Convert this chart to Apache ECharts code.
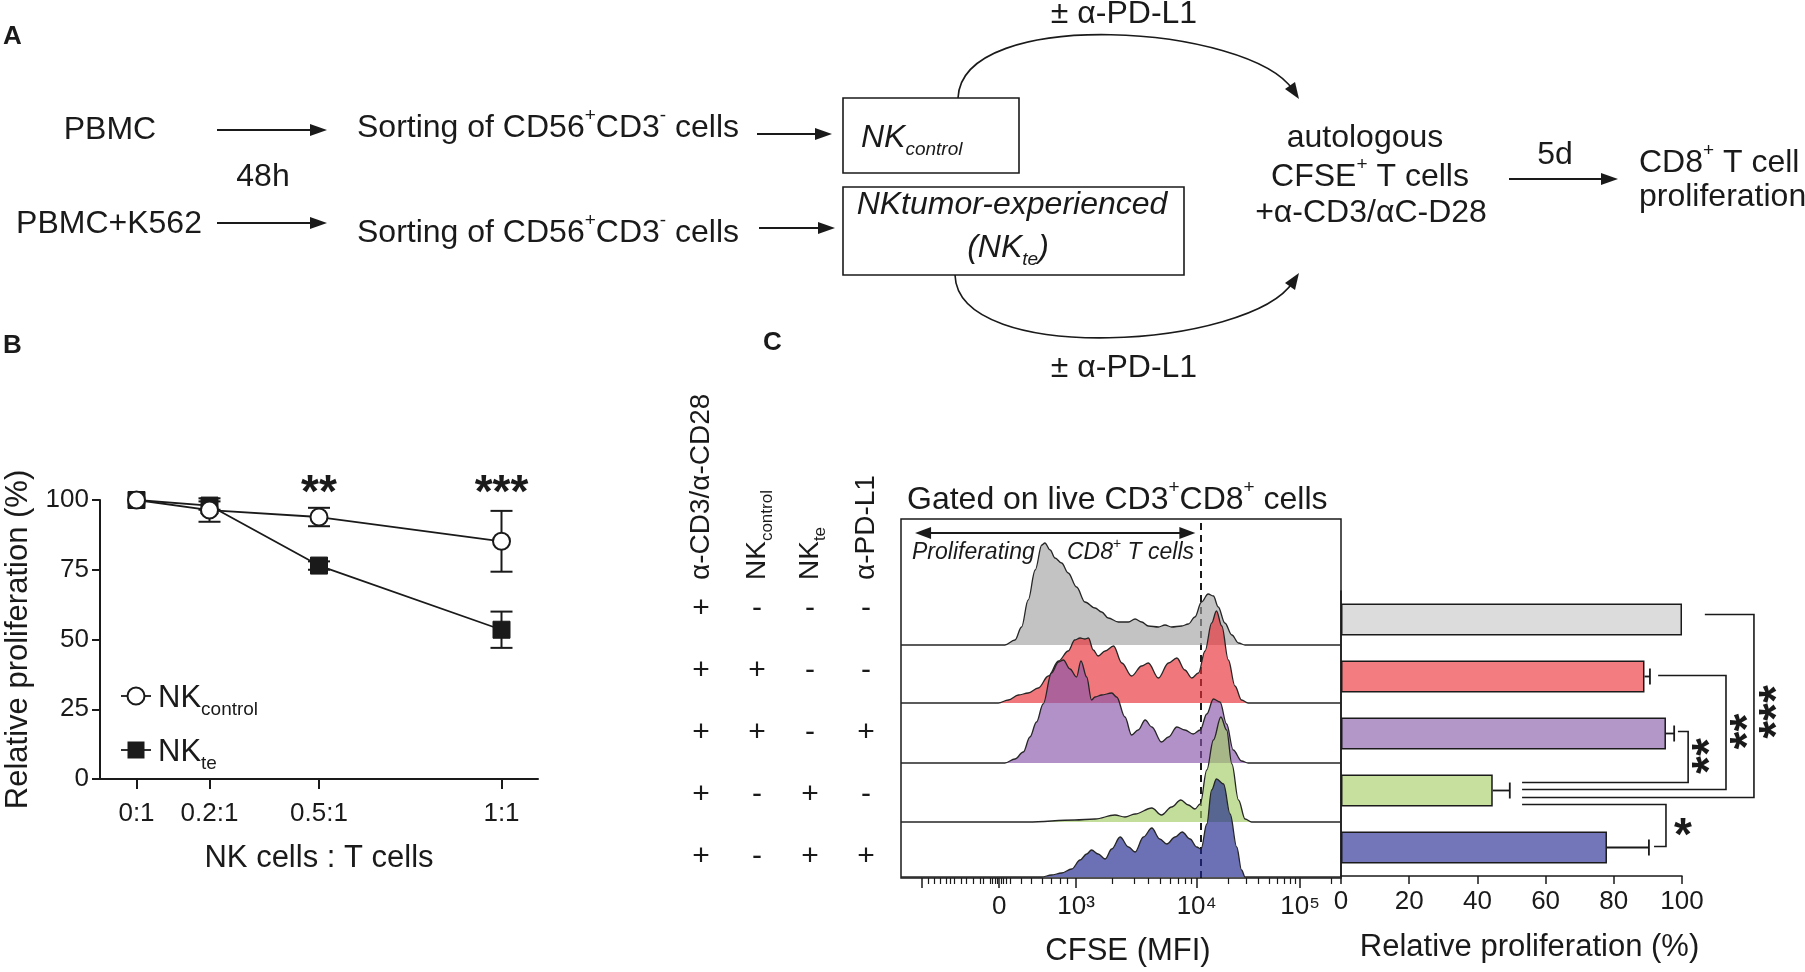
<!DOCTYPE html>
<html><head><meta charset="utf-8">
<script src="https://cdn.jsdelivr.net/npm/echarts@6/dist/echarts.min.js"></script>
<style>html,body{margin:0;padding:0;background:#fff}#c{width:1805px;height:972px}</style>
</head><body><div id="c"></div>
<script>
// ---------------- DATA ----------------
// Panel B
const ratioValues = [0, 0.2, 0.5, 1];
const ratioLabels = ['0:1', '0.2:1', '0.5:1', '1:1'];
const nkControl = [100, 96.4, 93.9, 85.2];
const nkControlErr = [0, 4.2, 3.3, 10.9];
const nkTe = [100, 98, 76.5, 53.5];
const nkTeErr = [0, 1.5, 1.5, 6.5];
const sigB = [[0.5, '**'], [1, '***']];

// Panel C conditions table
const conditionNames = ['{m|α-CD3/α-CD28}', '{m|NK}{s|control}', '{m|NK}{s|te}', '{m|α-PD-L1}'];
const conditionRows = [
  ['+', '-', '-', '-'],
  ['+', '+', '-', '-'],
  ['+', '+', '-', '+'],
  ['+', '-', '+', '-'],
  ['+', '-', '+', '+']
];

// Panel C histograms: [CFSE display channel (0-100), cell count]
const histGrey = [[0,0],[23.6,0],[25.9,5],[27.4,18],[28.9,45],[30.5,75],[32.0,100],[32.7,102],[33.9,95],[35.0,87],[36.5,82],[38.0,72],[39.9,58],[41.8,43],[44.1,37],[45.6,33],[47.1,27],[49.4,23],[51.7,23],[53.2,26],[54.7,23],[56.2,19],[58.5,18],[60.0,20],[61.5,18],[63.8,19],[65.3,21],[66.8,28],[68.3,43],[69.8,51],[71.0,49],[72.1,38],[73.6,22],[75.2,10],[76.7,2],[78.2,0],[100,0]];
const histRed = [[0,0],[22.1,0],[24.4,3],[26.7,8],[28.9,10],[31.2,15],[33.5,27],[35.8,42],[38.0,52],[39.5,63],[40.7,65],[41.8,64],[42.6,65],[43.7,53],[44.8,47],[46.4,52],[48.3,57],[50.2,40],[52.4,27],[54.7,37],[56.2,40],[58.5,25],[60.8,40],[62.7,45],[64.5,33],[66.1,25],[67.6,30],[69.1,52],[70.6,80],[71.7,92],[72.9,77],[74.4,43],[75.9,17],[77.4,3],[78.9,0],[100,0]];
const histPurple = [[0,0],[23.6,0],[25.9,4],[27.8,11],[29.3,26],[30.8,41],[32.3,59],[34.2,90],[35.8,101],[36.9,103],[38.4,94],[39.9,86],[40.9,102],[42.2,86],[43.3,63],[44.1,66],[45.6,68],[47.9,70],[49.0,66],[50.9,46],[52.4,28],[53.9,33],[55.5,43],[57.0,36],[59.2,21],[60.8,26],[62.7,36],[64.5,33],[66.4,29],[68.0,33],[69.5,49],[71.0,64],[72.5,61],[74.0,39],[75.5,13],[77.4,2],[78.9,0],[100,0]];
const histGreen = [[0,0],[28.9,0],[39.5,2],[44.1,3],[48.6,7],[50.9,5],[53.2,8],[57.0,14],[59.2,7],[61.5,15],[63.6,22],[65.3,17],[66.8,13],[68.0,18],[69.5,52],[71.0,82],[72.7,105],[74.0,92],[75.2,58],[76.7,22],[78.2,3],[79.7,0],[100,0]];
const histBlue = [[0,0],[32.0,0],[34.2,2],[36.5,4],[38.8,8],[40.7,17],[42.2,23],[43.3,27],[44.8,23],[46.4,18],[47.9,28],[49.8,40],[51.7,30],[53.2,25],[55.1,40],[57.0,49],[58.8,38],[60.4,33],[62.3,40],[63.9,45],[65.7,38],[67.2,30],[68.2,28],[69.5,53],[70.6,87],[71.7,98],[73.3,93],[74.8,63],[76.3,30],[77.4,7],[78.2,0],[100,0]];
const gateChannel = 68.2;
const cfseMajorTicks = [4.7, 22.3, 39.8, 67.2, 90.7];
const cfseTickLabels = [[22.3, '0'], [39.8, '10³'], [67.2, '10⁴'], [90.7, '10⁵']];
const cfseMinorTicks = [6.2, 7.6, 8.9, 10.2, 11.1, 12.1, 13.8, 14.9, 16.4, 17.9, 18.7, 20.2, 20.8, 21.4, 21.8, 22.8, 23.3, 23.9, 24.8, 27.4, 29.7, 32, 34.2, 36.1, 37.7, 48.0, 52.9, 56.3, 59.0, 61.1, 63.0, 64.5, 65.9, 74.3, 78.4, 81.3, 83.6, 85.5, 87.1, 88.4, 89.6, 97.8];

// Panel C bars
const barCats = ['ctrl', 'NKcontrol', 'NKcontrol+PD-L1', 'NKte', 'NKte+PD-L1'];
const relProlif = [100, 89, 95.3, 44.5, 78];
const relProlifErr = [0, 1.6, 2.4, 5, 12.3];

// ---------------- STYLE ----------------
const F = 'Liberation Sans, Arial, Helvetica, sans-serif';
const INK = '#1a1a1a';
const histFill = ['rgb(163,163,163)', 'rgb(232,47,54)', 'rgb(137,86,170)', 'rgb(163,204,101)', 'rgb(29,35,140)'];
const barFill = ['#dcdcdc', '#f27c80', '#b397c9', '#c8e09e', '#7377b9'];
const rowBaselines = [645, 703, 763, 822, 877];

function richSet(size, lh) {
  const ss = Math.round(size * 0.6);
  return {
    m: {fontSize: size, fontFamily: F, lineHeight: lh, fill: INK},
    mi: {fontSize: size, fontFamily: F, fontStyle: 'italic', lineHeight: lh, fill: INK},
    p: {fontSize: ss, fontFamily: F, lineHeight: ss, verticalAlign: 'top', fill: INK},
    s: {fontSize: ss, fontFamily: F, lineHeight: ss, verticalAlign: 'bottom', fill: INK},
    si: {fontSize: ss, fontFamily: F, fontStyle: 'italic', lineHeight: ss, verticalAlign: 'bottom', fill: INK}
  };
}
function T(text, x, y, o) {
  o = o || {};
  const size = o.size || 32;
  return {type: 'text', x: x, y: y, rotation: o.rot || 0, z: 50, silent: true,
    style: {text: text, x: 0, y: 0, fill: INK, fontSize: size, fontFamily: F,
      fontStyle: o.italic ? 'italic' : 'normal', fontWeight: o.bold ? 'bold' : 'normal',
      align: o.align || 'center', verticalAlign: o.va || 'middle', rich: richSet(size, o.lh || Math.round(size * 1.35))}};
}
function arrowR(x1, x2, y) {
  return [
    {type: 'line', z: 50, shape: {x1: x1, y1: y, x2: x2 - 8, y2: y}, style: {stroke: INK, lineWidth: 2}},
    {type: 'polygon', z: 50, shape: {points: [[x2, y], [x2 - 17, y - 6], [x2 - 17, y + 6]]}, style: {fill: INK}}
  ];
}

const chart = echarts.init(document.getElementById('c'), null, {width: 1805, height: 972});

const grids = [
  {left: 100, top: 500, width: 438, height: 279}
];
rowBaselines.forEach(b => grids.push({left: 901, top: b - 110, width: 440, height: 110}));
grids.push({left: 901, top: 519, width: 440, height: 359, show: true, borderColor: INK, borderWidth: 1.5, backgroundColor: 'transparent'});
grids.push({left: 901, top: 519, width: 440, height: 359});
grids.push({left: 1341, top: 591, width: 341, height: 285});

const lbl = {color: INK, fontFamily: F, fontSize: 26};
const xAxes = [{
  gridIndex: 0, type: 'value', min: -0.1, max: 1.1,
  axisLine: {onZero: false, lineStyle: {color: INK, width: 2}},
  axisTick: {customValues: ratioValues, length: 10, lineStyle: {color: INK, width: 2}},
  axisLabel: Object.assign({customValues: ratioValues, margin: 22,
    formatter: v => { const i = ratioValues.findIndex(r => Math.abs(r - v) < 1e-6); return i >= 0 ? ratioLabels[i] : ''; }}, lbl),
  splitLine: {show: false},
  name: 'NK cells : T cells', nameLocation: 'middle', nameGap: 64,
  nameTextStyle: {color: INK, fontFamily: F, fontSize: 31}
}];
const yAxes = [{
  gridIndex: 0, type: 'value', min: 0, max: 100, interval: 25,
  axisLine: {show: true, onZero: false, lineStyle: {color: INK, width: 2}},
  axisTick: {show: true, length: 8, lineStyle: {color: INK, width: 2}},
  axisLabel: Object.assign({margin: 11}, lbl),
  splitLine: {show: false},
  name: 'Relative proliferation (%)', nameLocation: 'middle', nameGap: 66,
  nameTextStyle: {color: INK, fontFamily: F, fontSize: 31}
}];
for (let i = 1; i <= 5; i++) {
  xAxes.push({gridIndex: i, type: 'value', min: 0, max: 100, show: false});
  yAxes.push({gridIndex: i, type: 'value', min: 0, max: 110, show: false});
}
xAxes.push({
  gridIndex: 6, type: 'value', min: 0, max: 100, position: 'bottom',
  axisLine: {show: false},
  axisTick: {show: true, customValues: cfseMajorTicks, length: 10, lineStyle: {color: INK, width: 1.5}},
  axisLabel: Object.assign({customValues: cfseTickLabels.map(d => d[0]), margin: 16,
    formatter: v => { const d = cfseTickLabels.find(t => Math.abs(t[0] - v) < 1e-6); return d ? d[1] : ''; }}, lbl),
  splitLine: {show: false},
  name: 'CFSE (MFI)', nameLocation: 'middle', nameGap: 58,
  nameTextStyle: {color: INK, fontFamily: F, fontSize: 31, padding: [0, 0, 0, 14]}
});
yAxes.push({gridIndex: 6, type: 'value', min: 0, max: 1, show: false});
xAxes.push({
  gridIndex: 7, type: 'value', min: 0, max: 100, position: 'bottom',
  axisLine: {show: false},
  axisTick: {show: true, customValues: cfseMinorTicks, length: 6, lineStyle: {color: INK, width: 1.2}},
  axisLabel: {show: false}, splitLine: {show: false}
});
yAxes.push({gridIndex: 7, type: 'value', min: 0, max: 1, show: false});
xAxes.push({
  gridIndex: 8, type: 'value', min: 0, max: 100, interval: 20,
  axisLine: {show: true, onZero: false, lineStyle: {color: INK, width: 1.5}},
  axisTick: {show: true, length: 8, lineStyle: {color: INK, width: 1.5}},
  axisLabel: Object.assign({margin: 13}, lbl),
  splitLine: {show: false},
  name: 'Relative proliferation (%)', nameLocation: 'middle', nameGap: 56,
  nameTextStyle: {color: INK, fontFamily: F, fontSize: 31, padding: [0, 0, 0, 36]}
});
yAxes.push({
  gridIndex: 8, type: 'category', data: barCats, inverse: true,
  axisLine: {show: true, onZero: false, lineStyle: {color: INK, width: 1.5}},
  axisTick: {show: false}, axisLabel: {show: false}
});

function errRenderV(params, api) {
  const x = api.value(0), lo = api.coord([x, api.value(1)]), hi = api.coord([x, api.value(2)]);
  if (Math.abs(lo[1] - hi[1]) < 0.5) return null;
  const w = 11, st = {stroke: INK, lineWidth: 2};
  return {type: 'group', children: [
    {type: 'line', shape: {x1: lo[0], y1: lo[1], x2: hi[0], y2: hi[1]}, style: st},
    {type: 'line', shape: {x1: lo[0] - w, y1: lo[1], x2: lo[0] + w, y2: lo[1]}, style: st},
    {type: 'line', shape: {x1: hi[0] - w, y1: hi[1], x2: hi[0] + w, y2: hi[1]}, style: st}
  ]};
}

const histSets = [histGrey, histRed, histPurple, histGreen, histBlue];
const series = [
  {type: 'custom', xAxisIndex: 0, yAxisIndex: 0, z: 1, renderItem: errRenderV, encode: {x: 0, y: [1, 2]},
    data: ratioValues.map((r, i) => [r, nkTe[i] - nkTeErr[i], nkTe[i] + nkTeErr[i]])},
  {type: 'custom', xAxisIndex: 0, yAxisIndex: 0, z: 1, renderItem: errRenderV, encode: {x: 0, y: [1, 2]},
    data: ratioValues.map((r, i) => [r, nkControl[i] - nkControlErr[i], nkControl[i] + nkControlErr[i]])},
  {type: 'line', name: 'NKte', xAxisIndex: 0, yAxisIndex: 0, z: 3,
    data: ratioValues.map((r, i) => [r, nkTe[i]]), symbol: 'rect', symbolSize: 17,
    itemStyle: {color: INK, borderColor: INK, borderWidth: 1}, lineStyle: {color: INK, width: 1.8}},
  {type: 'line', name: 'NKcontrol', xAxisIndex: 0, yAxisIndex: 0, z: 4,
    data: ratioValues.map((r, i) => [r, nkControl[i]]), symbol: 'circle', symbolSize: 17,
    itemStyle: {color: '#fff', borderColor: INK, borderWidth: 2}, lineStyle: {color: INK, width: 1.8}}
];
histSets.forEach((h, i) => {
  series.push({type: 'line', xAxisIndex: i + 1, yAxisIndex: i + 1, z: 5 + i, data: h,
    smooth: 0.35, smoothMonotone: 'x', symbol: 'none', clip: false,
    lineStyle: {color: '#262626', width: 1.3},
    areaStyle: {color: histFill[i], opacity: 0.65, origin: 'start'}});
});
series.push({type: 'line', xAxisIndex: 6, yAxisIndex: 6, z: 20, data: [],
  markLine: {silent: true, symbol: 'none', animation: false, label: {show: false},
    lineStyle: {color: INK, width: 2, type: [7, 5]}, data: [{xAxis: gateChannel}]}});
series.push({type: 'line', xAxisIndex: 7, yAxisIndex: 7, data: []});
series.push({type: 'bar', xAxisIndex: 8, yAxisIndex: 8, z: 3, barWidth: 32,
  data: relProlif.map((v, i) => ({value: v, itemStyle: {color: barFill[i]}})),
  itemStyle: {borderColor: INK, borderWidth: 1.5}});
series.push({type: 'custom', xAxisIndex: 8, yAxisIndex: 8, z: 2, encode: {x: [0, 2], y: 1},
  data: relProlif.map((v, i) => [v, i, v + relProlifErr[i]]),
  renderItem: (params, api) => {
    const a = api.coord([api.value(0), api.value(1)]), b = api.coord([api.value(2), api.value(1)]);
    if (b[0] - a[0] < 0.5) return null;
    const st = {stroke: INK, lineWidth: 1.8};
    return {type: 'group', children: [
      {type: 'line', shape: {x1: a[0], y1: a[1], x2: b[0], y2: b[1]}, style: st},
      {type: 'line', shape: {x1: b[0], y1: b[1] - 8, x2: b[0], y2: b[1] + 8}, style: st}
    ]};
  }});

chart.setOption({
  animation: false,
  backgroundColor: '#fff',
  grid: grids, xAxis: xAxes, yAxis: yAxes, series: series
});

// ---------------- GRAPHICS / ANNOTATIONS ----------------
const g = [];
// panel labels
g.push(T('A', 3, 37, {bold: true, size: 26, align: 'left'}));
g.push(T('B', 3, 346, {bold: true, size: 26, align: 'left'}));
g.push(T('C', 763, 343, {bold: true, size: 26, align: 'left'}));

// Panel A schematic
g.push(T('PBMC', 110, 130));
g.push(T('48h', 263, 177));
g.push(T('PBMC+K562', 109, 224));
g.push(...arrowR(217, 327, 130), ...arrowR(217, 327, 223));
g.push(T('{m|Sorting of CD56}{p|+}{m|CD3}{p|-}{m| cells}', 357, 128, {align: 'left'}));
g.push(T('{m|Sorting of CD56}{p|+}{m|CD3}{p|-}{m| cells}', 357, 233, {align: 'left'}));
g.push(...arrowR(757, 832, 134), ...arrowR(759, 835, 228));
g.push({type: 'rect', z: 50, shape: {x: 843, y: 98, width: 176, height: 75}, style: {fill: 'none', stroke: INK, lineWidth: 1.6}});
g.push({type: 'rect', z: 50, shape: {x: 843, y: 187, width: 341, height: 88}, style: {fill: 'none', stroke: INK, lineWidth: 1.6}});
g.push(T('{mi|NK}{si|control}', 861, 138, {align: 'left'}));
g.push(T('NKtumor-experienced', 1012, 205, {italic: true}));
g.push(T('{mi|(NK}{si|te}{mi|)}', 1008, 248));
g.push(T('± α-PD-L1', 1124, 14));
g.push(T('± α-PD-L1', 1124, 368));
g.push({type: 'bezierCurve', z: 50, shape: {x1: 958, y1: 98, cpx1: 962, cpy1: 5, cpx2: 1250, cpy2: 25, x2: 1293, y2: 90}, style: {stroke: INK, lineWidth: 1.6, fill: 'none'}});
g.push({type: 'polygon', z: 50, shape: {points: [[1299, 99], [1285, 89], [1295, 82]]}, style: {fill: INK}});
g.push({type: 'bezierCurve', z: 50, shape: {x1: 955, y1: 275, cpx1: 958, cpy1: 367, cpx2: 1250, cpy2: 348, x2: 1293, y2: 282}, style: {stroke: INK, lineWidth: 1.6, fill: 'none'}});
g.push({type: 'polygon', z: 50, shape: {points: [[1299, 273], [1285, 283], [1295, 290]]}, style: {fill: INK}});
g.push(T('autologous', 1365, 138));
g.push(T('{m|CFSE}{p|+}{m| T cells}', 1370, 177));
g.push(T('+α-CD3/αC-D28', 1371, 213));
g.push(T('5d', 1555, 155));
g.push(...arrowR(1509, 1618, 179));
g.push(T('{m|CD8}{p|+}{m| T cell}', 1639, 163, {align: 'left'}));
g.push(T('proliferation', 1639, 197, {align: 'left'}));

// Panel B legend (drawn by hand)
g.push({type: 'line', z: 50, shape: {x1: 121, y1: 696, x2: 151, y2: 696}, style: {stroke: INK, lineWidth: 1.8}});
g.push({type: 'circle', z: 51, shape: {cx: 136, cy: 696, r: 8.5}, style: {fill: '#fff', stroke: INK, lineWidth: 2}});
g.push(T('{m|NK}{s|control}', 158, 698, {align: 'left', size: 31}));
g.push({type: 'line', z: 50, shape: {x1: 121, y1: 750, x2: 151, y2: 750}, style: {stroke: INK, lineWidth: 1.8}});
g.push({type: 'rect', z: 51, shape: {x: 127.5, y: 741.5, width: 17, height: 17}, style: {fill: INK}});
g.push(T('{m|NK}{s|te}', 158, 752, {align: 'left', size: 31}));

// Panel B significance stars
sigB.forEach(s => {
  const p = chart.convertToPixel({gridIndex: 0}, [s[0], 106]);
  g.push(T(s[1], p[0], p[1] + 11, {size: 46, bold: true}));
});

// Panel C table headers and +/- signs
const colX = [701, 757, 810, 866];
conditionNames.forEach((n, j) => g.push(T(n, colX[j], 580, {size: 28, rot: Math.PI / 2, align: 'left'})));
conditionRows.forEach((row, i) => row.forEach((s, j) => g.push(T(s, colX[j], 609 + i * 62, {size: 30}))));

// histogram header
g.push(T('{m|Gated on live CD3}{p|+}{m|CD8}{p|+}{m| cells}', 907, 500, {align: 'left'}));
const aL = chart.convertToPixel({gridIndex: 6}, [3.2, 1])[0];
const aR = chart.convertToPixel({gridIndex: 6}, [gateChannel - 1.3, 1])[0];
g.push({type: 'line', z: 50, shape: {x1: aL + 8, y1: 533, x2: aR - 8, y2: 533}, style: {stroke: INK, lineWidth: 2}});
g.push({type: 'polygon', z: 50, shape: {points: [[aL, 533], [aL + 16, 527], [aL + 16, 539]]}, style: {fill: INK}});
g.push({type: 'polygon', z: 50, shape: {points: [[aR, 533], [aR - 16, 527], [aR - 16, 539]]}, style: {fill: INK}});
g.push(T('Proliferating', 912, 553, {italic: true, size: 23, align: 'left'}));
g.push(T('{mi|CD8}{p|+}{mi| T cells}', 1067, 553, {size: 23, align: 'left'}));

// Panel C brackets
const X = v => chart.convertToPixel({gridIndex: 8}, [v, 0])[0];
const C = i => chart.convertToPixel({gridIndex: 8}, [0, i])[1];
const br = (pts) => g.push({type: 'polyline', z: 50, shape: {points: pts}, style: {stroke: INK, lineWidth: 1.6, fill: 'none'}});
br([[X(106.7), C(0) - 5], [X(121.1), C(0) - 5], [X(121.1), C(3) + 7], [X(53.1), C(3) + 7]]);
br([[X(93), C(1) - 1], [X(112.9), C(1) - 1], [X(112.9), C(3) - 1], [X(53.1), C(3) - 1]]);
br([[X(98.8), C(2) - 2], [X(101.8), C(2) - 2], [X(101.8), C(3) - 8], [X(53.1), C(3) - 8]]);
br([[X(53.1), C(3) + 14], [X(95.3), C(3) + 14], [X(95.3), C(4) - 1], [X(91.8), C(4) - 1]]);
g.push(T('***', X(121.1) + 13 + 11, (C(0) + C(3)) / 2 + 7, {size: 46, bold: true, rot: Math.PI / 2}));
g.push(T('**', X(112.9) + 12 + 11, (C(1) + C(3)) / 2 - 2, {size: 46, bold: true, rot: Math.PI / 2}));
g.push(T('**', X(101.8) + 12 + 11, (C(2) + C(3) - 8) / 2 - 2, {size: 46, bold: true, rot: Math.PI / 2}));
g.push(T('*', X(95.3) + 17, (C(3) + 14 + C(4)) / 2 + 11, {size: 46, bold: true}));

chart.setOption({graphic: g});
</script>
</body></html>
